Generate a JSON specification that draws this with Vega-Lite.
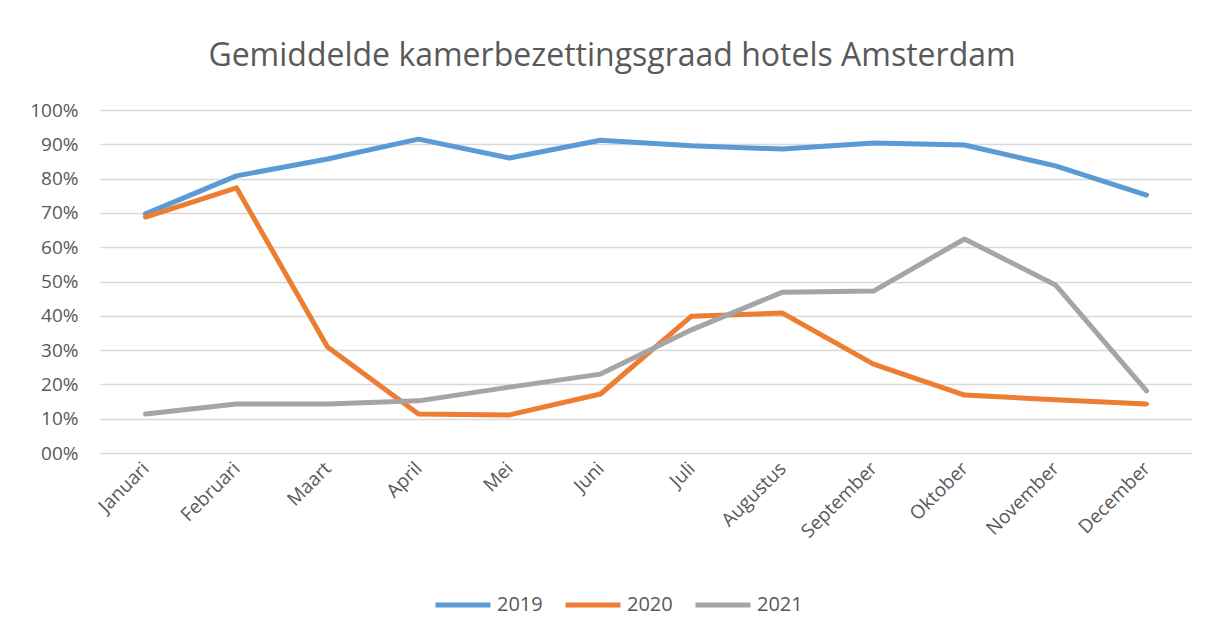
{
  "$schema": "https://vega.github.io/schema/vega-lite/v6.json",
  "width": 1092,
  "height": 343,
  "autosize": "none",
  "padding": {"left": 100, "top": 110, "right": 22, "bottom": 184},
  "background": "white",
  "config": {"view": {"stroke": null}, "font": "Open Sans"},
  "title": {"text": "Gemiddelde kamerbezettingsgraad hotels Amsterdam", "fontSize": 32, "fontWeight": "normal", "color": "#595959", "offset": 28, "dx": -34, "font": "Open Sans"},
  "data": {"values": [
    {"maand": "Januari", "jaar": "2019", "v": 0.697},
    {"maand": "Februari", "jaar": "2019", "v": 0.808},
    {"maand": "Maart", "jaar": "2019", "v": 0.857},
    {"maand": "April", "jaar": "2019", "v": 0.915},
    {"maand": "Mei", "jaar": "2019", "v": 0.86},
    {"maand": "Juni", "jaar": "2019", "v": 0.912},
    {"maand": "Juli", "jaar": "2019", "v": 0.896},
    {"maand": "Augustus", "jaar": "2019", "v": 0.886},
    {"maand": "September", "jaar": "2019", "v": 0.904},
    {"maand": "Oktober", "jaar": "2019", "v": 0.898},
    {"maand": "November", "jaar": "2019", "v": 0.837},
    {"maand": "December", "jaar": "2019", "v": 0.752},
    {"maand": "Januari", "jaar": "2020", "v": 0.688},
    {"maand": "Februari", "jaar": "2020", "v": 0.773},
    {"maand": "Maart", "jaar": "2020", "v": 0.309},
    {"maand": "April", "jaar": "2020", "v": 0.114},
    {"maand": "Mei", "jaar": "2020", "v": 0.111},
    {"maand": "Juni", "jaar": "2020", "v": 0.172},
    {"maand": "Juli", "jaar": "2020", "v": 0.399},
    {"maand": "Augustus", "jaar": "2020", "v": 0.408},
    {"maand": "September", "jaar": "2020", "v": 0.259},
    {"maand": "Oktober", "jaar": "2020", "v": 0.169},
    {"maand": "November", "jaar": "2020", "v": 0.155},
    {"maand": "December", "jaar": "2020", "v": 0.143},
    {"maand": "Januari", "jaar": "2021", "v": 0.114},
    {"maand": "Februari", "jaar": "2021", "v": 0.143},
    {"maand": "Maart", "jaar": "2021", "v": 0.143},
    {"maand": "April", "jaar": "2021", "v": 0.152},
    {"maand": "Mei", "jaar": "2021", "v": 0.192},
    {"maand": "Juni", "jaar": "2021", "v": 0.23},
    {"maand": "Juli", "jaar": "2021", "v": 0.359},
    {"maand": "Augustus", "jaar": "2021", "v": 0.469},
    {"maand": "September", "jaar": "2021", "v": 0.472},
    {"maand": "Oktober", "jaar": "2021", "v": 0.624},
    {"maand": "November", "jaar": "2021", "v": 0.49},
    {"maand": "December", "jaar": "2021", "v": 0.181}
  ]},
  "mark": {"type": "line", "strokeWidth": 5, "strokeCap": "round", "strokeJoin": "round"},
  "encoding": {
    "x": {"field": "maand", "type": "nominal", "sort": null,
      "scale": {"type": "point", "padding": 0.5},
      "axis": {"title": null, "labelAngle": -45, "labelAlign": "right", "labelBaseline": "middle", "labelFontSize": 19, "labelColor": "#595959", "ticks": false, "domain": false, "labelPadding": 12, "labelFont": "Open Sans"}},
    "y": {"field": "v", "type": "quantitative",
      "scale": {"domain": [0, 1], "nice": false},
      "axis": {"title": null, "values": [0, 0.1, 0.2, 0.3, 0.4, 0.5, 0.6, 0.7, 0.8, 0.9, 1], "labelExpr": "datum.value == 0 ? '00%' : format(datum.value, '.0%')", "labelFontSize": 19, "labelColor": "#595959", "ticks": false, "domain": false, "gridColor": "#d9d9d9", "gridWidth": 1.5, "labelPadding": 22, "labelFont": "Open Sans"}},
    "color": {"field": "jaar", "type": "nominal",
      "scale": {"domain": ["2019", "2020", "2021"], "range": ["#5B9BD5", "#ED7D31", "#A5A5A5"]},
      "legend": {"title": null, "orient": "none", "legendX": 333, "legendY": 465, "direction": "horizontal", "symbolType": "stroke", "symbolSize": 3025, "symbolStrokeWidth": 5, "labelFontSize": 20, "labelColor": "#595959", "labelFont": "Open Sans", "columnPadding": 12, "symbolOffset": 0, "labelOffset": 4}}
  }
}
